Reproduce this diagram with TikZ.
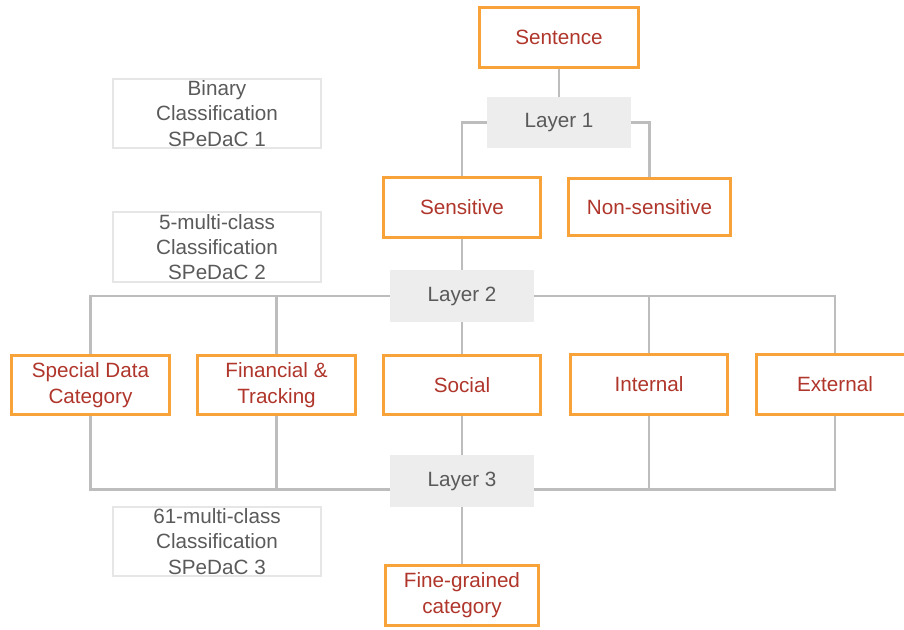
\documentclass[tikz,border=0pt]{standalone}
\usepackage{fontspec}
\setmainfont{Liberation Sans}
\definecolor{orng}{HTML}{F7A33A}
\definecolor{rtext}{HTML}{B0362C}
\definecolor{lgray}{HTML}{BDBDBD}
\definecolor{lfill}{HTML}{EDEDED}
\definecolor{gtext}{HTML}{5A5A5A}
\definecolor{nborder}{HTML}{E6E6E6}
\begin{document}
\begin{tikzpicture}[x=0.75pt,y=-0.75pt,
  catbox/.style={draw=orng,line width=2.3pt,fill=white,text=rtext,align=center,
    font=\fontsize{15.5}{19.5}\selectfont,inner sep=0pt,
    minimum width=118pt,minimum height=44.5pt},
  layerbox/.style={fill=lfill,text=gtext,font=\fontsize{15.5}{19}\selectfont,
    inner sep=0pt,minimum width=108pt,minimum height=38.5pt},
  notebox/.style={draw=nborder,line width=1.5pt,text=gtext,align=center,
    font=\fontsize{15.5}{19}\selectfont,inner sep=0pt,
    minimum width=156pt,minimum height=52pt},
  conn/.style={draw=lgray,line width=1.9pt}]
\useasboundingbox (0,0) rectangle (904,629);
% note boxes
\node[notebox] (n1) at (217,113.5) {Binary\\Classification\\SPeDaC 1};
\node[notebox] (n2) at (217,247) {5-multi-class\\Classification\\SPeDaC 2};
\node[notebox] (n3) at (217,541.5) {61-multi-class\\Classification\\SPeDaC 3};
% main nodes
\node[catbox,minimum width=119pt,minimum height=45pt] (sent) at (559,37.5) {Sentence};
\node[layerbox] (l1) at (559,122.5) {Layer 1};
\node[catbox] (sens) at (462,207.5) {Sensitive};
\node[catbox,minimum width=122pt,minimum height=43pt] (nons) at (649.5,207) {Non-sensitive};
\node[layerbox] (l2) at (462,296) {Layer 2};
\node[catbox] (sdc) at (90.5,385) {Special Data\\Category};
\node[catbox] (fin) at (276.5,385) {Financial \&\\Tracking};
\node[catbox] (soc) at (462,385) {Social};
\node[catbox] (int) at (649,384.5) {Internal};
\node[catbox] (ext) at (835,384.5) {External};
\node[layerbox] (l3) at (462,481) {Layer 3};
\node[catbox,minimum width=115pt] (fine) at (462,595.5) {Fine-grained\\category};
% connectors
\coordinate (l3w) at ([yshift=-6.5pt]l3.west);
\coordinate (l3e) at ([yshift=-6.5pt]l3.east);
\path[conn] (sent) -- (l1);
\path[conn] (l1.west) -| (sens.north);
\path[conn] (l1.east) -| (nons.north);
\path[conn] (sens) -- (l2);
\path[conn] (sdc.north) |- (l2.west);
\path[conn] (fin.north) |- (l2.west);
\path[conn] (int.north) |- (l2.east);
\path[conn] (ext.north) |- (l2.east);
\path[conn] (l2) -- (soc);
\path[conn] (sdc.south) |- (l3w);
\path[conn] (fin.south) |- (l3w);
\path[conn] (int.south) |- (l3e);
\path[conn] (ext.south) |- (l3e);
\path[conn] (soc) -- (l3);
\path[conn] (l3) -- (fine);
\end{tikzpicture}
\end{document}
